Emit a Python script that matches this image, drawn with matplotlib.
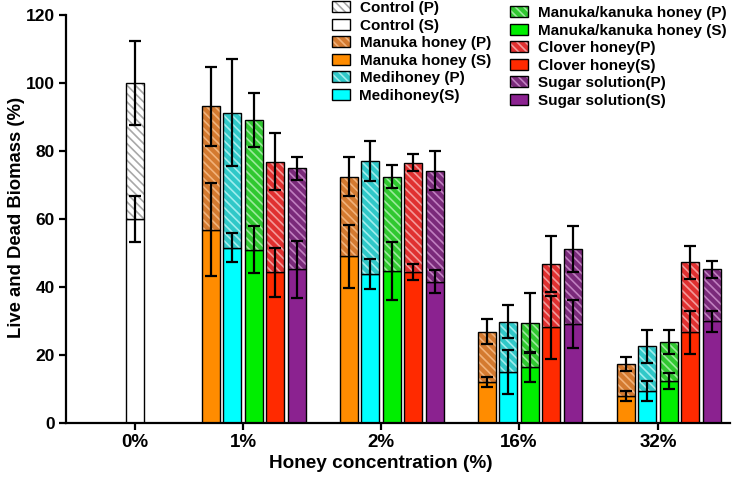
"""
Live and dead biomass vs honey concentration (stacked P/S bars).
"""

import matplotlib
matplotlib.use("Agg")
import matplotlib.pyplot as plt
from matplotlib.patches import Patch
import numpy as np

plt.rcParams["font.family"] = ["Liberation Sans", "DejaVu Sans"]
plt.rcParams["font.weight"] = "bold"
plt.rcParams["hatch.linewidth"] = 1.2

# Data
concentrations = ["0%", "1%", "2%", "16%", "32%"]
honeys = ["Manuka honey", "Medihoney", "Manuka/kanuka honey", "Clover honey", "Sugar solution"]

control_total = 100.0
control_total_err = 12.3
control_s = 60.0
control_s_err = 6.7

# total height (P on top of S) for 1%, 2%, 16%, 32%
manuka_total = [93.1, 72.5, 26.9, 17.3]
medihoney_total = [91.3, 77.1, 29.8, 22.6]
mk_total = [89.1, 72.4, 29.5, 23.8]
clover_total = [76.9, 76.6, 46.7, 47.3]
sugar_total = [74.9, 74.2, 51.1, 45.2]

manuka_total_err = [11.5, 5.6, 3.6, 2.0]
medihoney_total_err = [15.7, 5.9, 4.8, 4.9]
mk_total_err = [8.0, 3.4, 8.8, 3.5]
clover_total_err = [8.3, 2.6, 8.2, 4.8]
sugar_total_err = [3.4, 5.8, 6.8, 2.5]

# S part
manuka_s = [56.8, 49.0, 12.0, 8.0]
medihoney_s = [51.6, 43.7, 15.1, 9.5]
mk_s = [50.9, 44.7, 16.6, 12.3]
clover_s = [44.3, 44.5, 28.1, 26.7]
sugar_s = [45.2, 41.6, 29.1, 29.9]

manuka_s_err = [13.7, 9.3, 1.5, 1.5]
medihoney_s_err = [4.2, 4.4, 6.5, 2.9]
mk_s_err = [6.9, 8.4, 4.4, 2.4]
clover_s_err = [7.1, 2.3, 9.4, 6.3]
sugar_s_err = [8.4, 3.5, 7.0, 3.0]

legend_left = ["Control (P)", "Control (S)", "Manuka honey (P)", "Manuka honey (S)",
               "Medihoney (P)", "Medihoney(S)"]
legend_right = ["Manuka/kanuka honey (P)", "Manuka/kanuka honey (S)", "Clover honey(P)",
                "Clover honey(S)", "Sugar solution(P)", "Sugar solution(S)"]

totals = [manuka_total, medihoney_total, mk_total, clover_total, sugar_total]
totals_err = [manuka_total_err, medihoney_total_err, mk_total_err, clover_total_err, sugar_total_err]
s_vals = [manuka_s, medihoney_s, mk_s, clover_s, sugar_s]
s_errs = [manuka_s_err, medihoney_s_err, mk_s_err, clover_s_err, sugar_s_err]

# Styles / layout
s_colors = ["#FF8C00", "#00FFFF", "#00EE00", "#FF2A00", "#8B2290"]
p_colors = ["#D47A30", "#30C8C8", "#30C830", "#E03030", "#7A2A7A"]
hatch_colors = ["#F2B27A", "#A0EEEE", "#9CEA9C", "#F49A9A", "#C080C0"]
group_x = np.array([1.35, 2.43, 3.81, 5.19, 6.58])
slot = 0.216
width = 0.18
hatch = "\\\\\\\\"
err_kw = dict(fmt="none", ecolor="black", elinewidth=1.6, capsize=4.5, capthick=1.6)

fig = plt.figure(figsize=(7.33, 4.8), dpi=100)
ax = fig.add_axes([66 / 733, 57 / 480, 664 / 733, 408 / 480])


def stacked(x, s, tot, s_err, t_err, scol, pcol, hcol):
    ax.bar(x, s, width, color=scol, edgecolor="black", linewidth=1.0)
    top = np.array(tot) - np.array(s)
    ax.bar(x, top, width, bottom=s, color=pcol, edgecolor=hcol, hatch=hatch, linewidth=0)
    ax.bar(x, top, width, bottom=s, fill=False, edgecolor="black", linewidth=1.0)
    ax.errorbar(x, tot, yerr=t_err, **err_kw)
    ax.errorbar(x, s, yerr=s_err, **err_kw)


# control at 0%
stacked([group_x[0]], [control_s], [control_total], [control_s_err], [control_total_err],
        "white", "white", "#A8A8A8")

for k in range(len(honeys)):
    x = group_x[1:] + (k - 1.5) * slot
    stacked(x, s_vals[k], totals[k], s_errs[k], totals_err[k],
            s_colors[k], p_colors[k], hatch_colors[k])

ax.set_xlim(0.66, 7.30)
ax.set_ylim(0, 120)
ax.set_yticks(np.arange(0, 121, 20))
ax.set_xticks(group_x)
ax.set_xticklabels(concentrations)
ax.spines["top"].set_visible(False)
ax.spines["right"].set_visible(False)
ax.spines["left"].set_linewidth(1.6)
ax.spines["bottom"].set_linewidth(1.6)
ax.tick_params(axis="both", length=5, width=1.6, labelsize=12.5, pad=3)
ax.tick_params(axis="x", labelsize=13.5)
ax.set_ylabel("Live and Dead Biomass (%)", fontsize=13.3, fontweight="bold")
ax.set_xlabel("Honey concentration (%)", fontsize=13.7, fontweight="bold", labelpad=2)
ax.xaxis.set_label_coords((381 - 66) / 664, -0.078)
ax.yaxis.set_label_coords((25 - 66) / 664, (423 - 217) / 408)


def handle(pcol, hcol, hatched):
    if hatched:
        face = Patch(facecolor=pcol, edgecolor=hcol, hatch=hatch, linewidth=0)
    else:
        face = Patch(facecolor=pcol, edgecolor="none", linewidth=0)
    frame = Patch(fill=False, edgecolor="black", linewidth=1.0)
    return (face, frame)


left_handles = [handle("white", "#A8A8A8", True), handle("white", "none", False)]
for k in range(2):
    left_handles.append(handle(p_colors[k], hatch_colors[k], True))
    left_handles.append(handle(s_colors[k], "none", False))
right_handles = []
for k in range(2, 5):
    right_handles.append(handle(p_colors[k], hatch_colors[k], True))
    right_handles.append(handle(s_colors[k], "none", False))

leg_kw = dict(frameon=False, fontsize=11, handlelength=1.15, handleheight=0.75,
              handletextpad=0.65, labelspacing=0.23, borderpad=0, borderaxespad=0,
              loc="upper left")
fig.legend(left_handles, legend_left, bbox_to_anchor=(332 / 733, 1 - 1 / 480), **leg_kw)
fig.legend(right_handles, legend_right, bbox_to_anchor=(510 / 733, 1 - 6 / 480), **leg_kw)

plt.savefig("out.png", dpi=100)
